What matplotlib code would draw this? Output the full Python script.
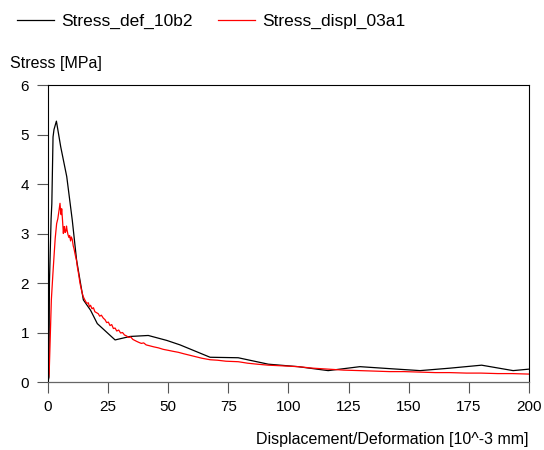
import matplotlib

matplotlib.use("Agg")
import matplotlib.pyplot as plt

plt.rcParams["font.family"] = ["Liberation Sans", "DejaVu Sans"]

# Stress_def_10b2 (coarse curve)
x_def = [0, 0.4, 0.6, 1.3, 1.6, 2.1, 2.5, 3.5, 5.3, 7.8, 10.1, 11.9, 14.7, 17.7,
         20.5, 27.9, 34.1, 41.7, 49.4, 54.9, 67.4, 79.1, 91.6, 104, 116.5, 129.7,
         142, 154.7, 167.2, 180.3, 193.4, 200]
y_def = [0, 0.1, 2.0, 3.3, 3.6, 4.95, 5.1, 5.27, 4.75, 4.15, 3.27, 2.46, 1.66, 1.45,
         1.18, 0.85, 0.92, 0.94, 0.84, 0.75, 0.50, 0.49, 0.36, 0.31, 0.23, 0.31,
         0.27, 0.23, 0.28, 0.34, 0.23, 0.26]

# Stress_displ_03a1 (dense, noisy curve)
x_displ = [0, 0.5, 1.0, 1.4, 2.0, 2.5, 3.0, 3.6, 4.1, 4.6, 5.0, 5.3, 5.5, 5.7, 6.0,
           6.4, 6.6, 6.8, 7.1, 7.4, 7.7, 7.9, 8.3, 8.7, 9.0, 9.4, 9.7, 10.1, 10.5,
           10.8, 11.2, 11.5, 11.9, 12.2, 12.6, 12.9, 13.3, 13.6, 14.2, 14.7, 15.3,
           16.1, 16.8, 17.2, 17.7, 18.3, 18.9, 19.5, 20.2, 20.9, 21.5, 22.2, 23.0,
           23.7, 24.4, 25.1, 25.8, 26.5, 27.2, 27.9, 28.6, 29.4, 30.2, 31.0, 31.8,
           32.7, 33.5, 34.4, 35.3, 36.1, 36.9, 37.8, 38.8, 39.8, 40.8, 42.4, 44.0,
           45.9, 47.9, 50.0, 52.0, 54.2, 56.5, 59.0, 61.5, 64.0, 67.4, 70.5, 74.0,
           79.1, 83.0, 87.0, 91.6, 96.0, 100.0, 104.0, 110.0, 116.5, 123.0, 129.7,
           136.0, 142.0, 148.0, 154.7, 161.0, 167.0, 174.0, 180.0, 187.0, 193.0, 200.0]
y_displ = [0, 0.18, 1.0, 1.66, 2.15, 2.53, 2.9, 3.2, 3.3, 3.47, 3.61, 3.42, 3.38, 3.5, 3.3,
           3.0, 3.12, 3.14, 3.02, 3.04, 3.15, 3.08, 2.98, 2.92, 2.96, 2.85, 2.93, 2.88, 2.75,
           2.7, 2.6, 2.53, 2.45, 2.33, 2.22, 2.13, 2.0, 1.93, 1.80, 1.72, 1.66,
           1.59, 1.60, 1.52, 1.55, 1.48, 1.50, 1.42, 1.40, 1.38, 1.33, 1.35, 1.29,
           1.26, 1.20, 1.21, 1.14, 1.16, 1.08, 1.09, 1.03, 1.05, 0.99, 1.00, 0.95,
           0.93, 0.90, 0.91, 0.86, 0.84, 0.82, 0.80, 0.78, 0.79, 0.75, 0.73, 0.71,
           0.69, 0.66, 0.64, 0.62, 0.60, 0.57, 0.54, 0.51, 0.48, 0.45, 0.44, 0.42,
           0.41, 0.38, 0.36, 0.34, 0.33, 0.32, 0.31, 0.28, 0.26, 0.24, 0.23,
           0.22, 0.21, 0.21, 0.20, 0.19, 0.19, 0.18, 0.18, 0.17, 0.17, 0.16]

x_ticks = [0, 25, 50, 75, 100, 125, 150, 175, 200]
y_ticks = [0, 1, 2, 3, 4, 5, 6]

fig = plt.figure(figsize=(5.44, 4.5), dpi=100)
ax = fig.add_axes([0.0882, 0.1511, 0.8842, 0.66])

ax.plot(x_def, y_def, color="#000000", lw=0.9, label="Stress_def_10b2")
ax.plot(x_displ, y_displ, color="#ff0000", lw=0.9, label="Stress_displ_03a1")

ax.set_xlim(0, 200)
ax.set_ylim(0, 6)
ax.set_xticks(x_ticks)
ax.set_yticks(y_ticks)
ax.tick_params(axis="both", direction="out", length=8, width=0.8, labelsize=11,
               color="#555555")
ax.tick_params(axis="x", pad=5)
ax.tick_params(axis="y", pad=5.5)
for side in ("top", "right", "left"):
    ax.spines[side].set_color("#000000")
    ax.spines[side].set_linewidth(0.8)
ax.spines["bottom"].set_color("#666666")
ax.spines["bottom"].set_linewidth(0.9)

fig.text(0.018, 0.858, "Stress [MPa]", fontsize=11.5, ha="left", va="center")
fig.text(0.972, 0.0133, "Displacement/Deformation [10^-3 mm]", fontsize=11.5,
         ha="right", va="baseline")

fig.legend(loc="center left", bbox_to_anchor=(0.031, 0.953), ncol=2, frameon=False,
           fontsize=12.5, handlelength=2.13, handletextpad=0.4, columnspacing=1.5,
           borderpad=0, borderaxespad=0)

fig.savefig("out.png", dpi=100)
